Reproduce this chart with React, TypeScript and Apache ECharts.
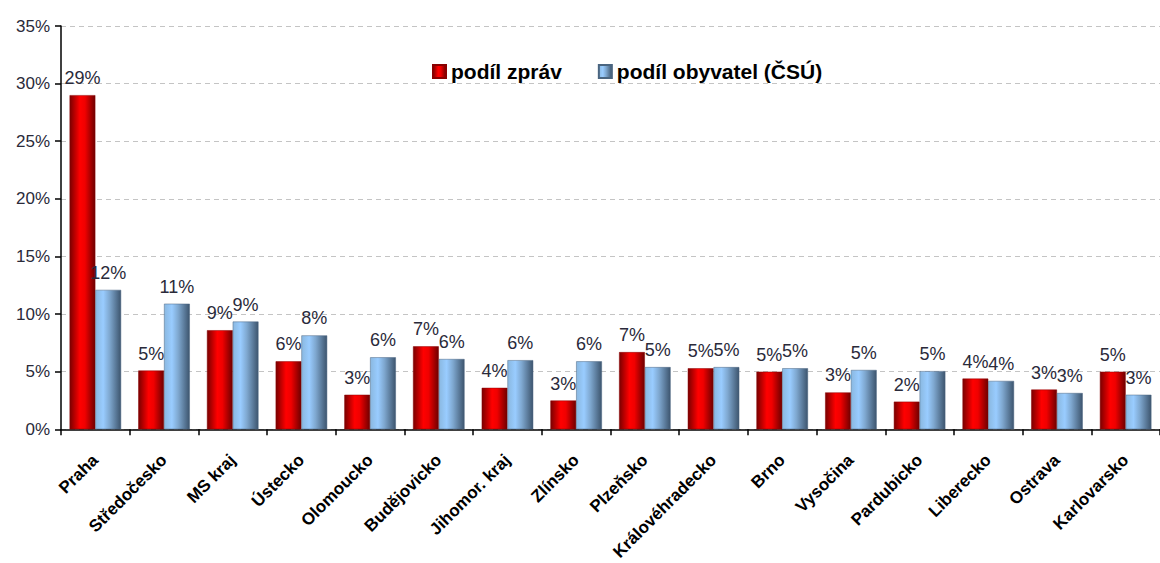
import React, { useEffect, useRef } from "react";
import * as echarts from "echarts";

const categories = [
  "Praha", "Středočesko", "MS kraj", "Ústecko", "Olomoucko", "Budějovicko",
  "Jihomor. kraj", "Zlínsko", "Plzeňsko", "Královéhradecko", "Brno", "Vysočina",
  "Pardubicko", "Liberecko", "Ostrava", "Karlovarsko",
];
const podilZprav = [29.0, 5.1, 8.6, 5.9, 3.0, 7.2, 3.6, 2.5, 6.7, 5.3, 5.0, 3.2, 2.4, 4.4, 3.45, 5.0];
const podilObyvatel = [12.1, 10.9, 9.35, 8.15, 6.25, 6.1, 6.0, 5.9, 5.4, 5.4, 5.3, 5.15, 5.05, 4.2, 3.15, 3.0];
const yTicks = [0, 5, 10, 15, 20, 25, 30, 35];

const FONT = "'Liberation Sans', Arial, sans-serif";

const redGrad = new echarts.graphic.LinearGradient(0, 0, 1, 0, [
  { offset: 0, color: "#7a0000" },
  { offset: 0.4, color: "#ff0000" },
  { offset: 0.6, color: "#f00000" },
  { offset: 1, color: "#6e0000" },
]);
const blueGrad = new echarts.graphic.LinearGradient(0, 0, 1, 0, [
  { offset: 0, color: "#8ab8e0" },
  { offset: 0.3, color: "#99ccff" },
  { offset: 0.55, color: "#7fa8d0" },
  { offset: 1, color: "#3d556e" },
]);

export default function App() {
  const ref = useRef<HTMLDivElement>(null);
  useEffect(() => {
    document.body.style.margin = "0";
    const chart = echarts.init(ref.current!, undefined, { renderer: "svg" });
    const label = {
      show: true,
      position: "top" as const,
      distance: 8,
      fontFamily: FONT,
      fontSize: 18,
      color: "#2a2a3a",
      formatter: (p: any) => Math.round(p.value) + "%",
    };
    chart.setOption({
      animation: false,
      backgroundColor: "#ffffff",
      textStyle: { fontFamily: FONT },
      legend: {
        left: 427,
        top: 56,
        itemWidth: 13,
        itemHeight: 13,
        itemGap: 36,
        icon: "rect",
        textStyle: { fontFamily: FONT, fontSize: 21, fontWeight: "bold", color: "#000" },
        data: ["podíl zpráv", "podíl obyvatel (ČSÚ)"],
      },
      grid: { left: 61, top: 26, width: 1108, height: 405, containLabel: false },
      xAxis: {
        type: "category",
        data: categories,
        axisLine: { lineStyle: { color: "#000", width: 1.5 } },
        axisTick: { show: true, length: 6, lineStyle: { color: "#000", width: 1.5 } },
        axisLabel: {
          rotate: 45,
          interval: 0,
          margin: 28,
          fontFamily: FONT,
          fontSize: 17,
          fontWeight: "bold",
          color: "#000",
        },
      },
      yAxis: {
        type: "value",
        min: yTicks[0],
        max: yTicks[yTicks.length - 1],
        interval: 5,
        axisLine: { show: true, lineStyle: { color: "#000", width: 1.5 } },
        axisTick: { show: true, length: 6, lineStyle: { color: "#000", width: 1.5 } },
        axisLabel: {
          margin: 11,
          fontFamily: FONT,
          fontSize: 17,
          color: "#2a2a3a",
          formatter: (v: number) => v + "%",
        },
        splitLine: { show: true, lineStyle: { color: "#c4c4c4", type: [5, 4], width: 1 } },
      },
      series: [
        {
          name: "podíl zpráv",
          type: "bar",
          data: podilZprav,
          barGap: "0%",
          barCategoryGap: "25%",
          itemStyle: { color: redGrad, borderColor: "#8a0000", borderWidth: 0.5 },
          label,
        },
        {
          name: "podíl obyvatel (ČSÚ)",
          type: "bar",
          data: podilObyvatel,
          barGap: "0%",
          barCategoryGap: "25%",
          itemStyle: { color: blueGrad, borderColor: "#4a6580", borderWidth: 0.5 },
          label,
        },
      ],
    });
    return () => chart.dispose();
  }, []);
  return <div ref={ref} style={{ width: 1160, height: 563 }} />;
}
